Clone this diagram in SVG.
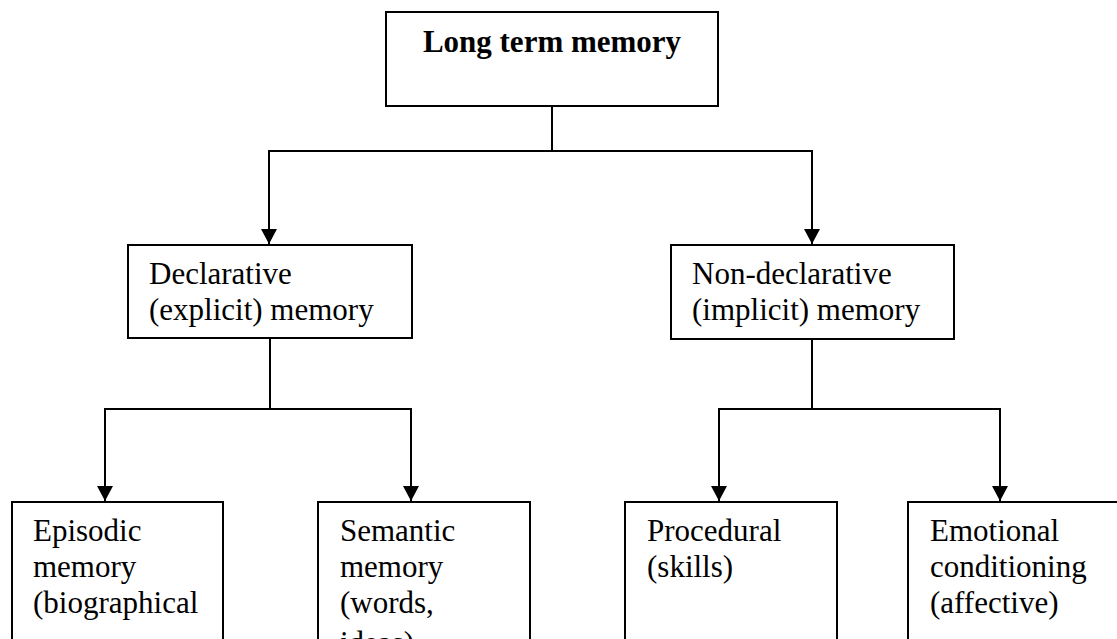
<svg xmlns="http://www.w3.org/2000/svg" width="1117" height="639" viewBox="0 0 1117 639">
<style>
.box{fill:#fff;stroke:#000;stroke-width:2}
.t{font-family:"Liberation Serif","Times New Roman",serif;font-size:31px;fill:#000}
.b{font-weight:bold}
.c{fill:none;stroke:#000;stroke-width:2}
</style>
<defs>
<marker id="ah" markerWidth="15" markerHeight="16" refX="15" refY="8" orient="auto" markerUnits="userSpaceOnUse" viewBox="0 0 15 16">
<path d="M0,0 L15,8 L0,16 Z" fill="#000"/>
</marker>
</defs>
<rect width="1117" height="639" fill="#fff"/>
<g id="connectors">
<path class="c" d="M552,106 V151"/>
<path class="c" d="M269,151 H812"/>
<path class="c" d="M269,150 V244" marker-end="url(#ah)"/>
<path class="c" d="M812,150 V244" marker-end="url(#ah)"/>
<path class="c" d="M270,338 V409"/>
<path class="c" d="M105,409 H411"/>
<path class="c" d="M105,408 V501" marker-end="url(#ah)"/>
<path class="c" d="M411,408 V501" marker-end="url(#ah)"/>
<path class="c" d="M812,339 V409"/>
<path class="c" d="M719,409 H1000"/>
<path class="c" d="M719,408 V501" marker-end="url(#ah)"/>
<path class="c" d="M1000,408 V501" marker-end="url(#ah)"/>
</g>
<g id="long-term">
<rect class="box" x="386" y="12" width="332" height="94"/>
<text class="t b" x="552" y="52" text-anchor="middle">Long term memory</text>
</g>
<g id="declarative">
<rect class="box" x="128" y="245" width="284" height="93"/>
<text class="t" x="149" y="284">Declarative</text>
<text class="t" x="149" y="320">(explicit) memory</text>
</g>
<g id="non-declarative">
<rect class="box" x="671" y="245" width="283" height="94"/>
<text class="t" x="692" y="284">Non-declarative</text>
<text class="t" x="692" y="320">(implicit) memory</text>
</g>
<g id="episodic">
<rect class="box" x="12" y="502" width="211" height="160"/>
<text class="t" x="33" y="541">Episodic</text>
<text class="t" x="33" y="577">memory</text>
<text class="t" x="33" y="613">(biographical</text>
</g>
<g id="semantic">
<rect class="box" x="318" y="502" width="212" height="160"/>
<text class="t" x="340" y="541">Semantic</text>
<text class="t" x="340" y="577">memory</text>
<text class="t" x="340" y="613">(words,</text>
<text class="t" x="340" y="653">ideas)</text>
</g>
<g id="procedural">
<rect class="box" x="625" y="502" width="212" height="160"/>
<text class="t" x="647" y="541">Procedural</text>
<text class="t" x="647" y="577">(skills)</text>
</g>
<g id="emotional">
<rect class="box" x="908" y="502" width="230" height="160"/>
<text class="t" x="930" y="541">Emotional</text>
<text class="t" x="930" y="577">conditioning</text>
<text class="t" x="930" y="613">(affective)</text>
</g>
</svg>
